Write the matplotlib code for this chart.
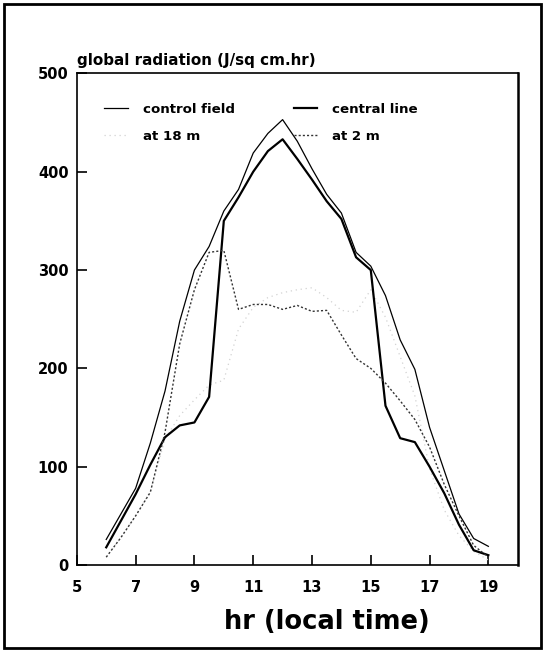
import matplotlib
matplotlib.use("Agg")
import matplotlib.pyplot as plt
from matplotlib.patches import Rectangle

plt.rcParams['font.family'] = ['DejaVu Sans']
plt.rcParams['font.weight'] = 'bold'

hours = [6, 6.5, 7, 7.5, 8, 8.5, 9, 9.5, 10, 10.5, 11, 11.5, 12, 12.5,
         13, 13.5, 14, 14.5, 15, 15.5, 16, 16.5, 17, 17.5, 18, 18.5, 19]

control_field = [26, 52, 78, 124, 177, 248, 300, 324, 360, 382, 419, 439, 453, 431,
                 403, 377, 358, 318, 304, 274, 229, 199, 140, 96, 52, 27, 19]
central_line = [18, 45, 72, 102, 130, 142, 145, 171, 350, 374, 400, 421, 433, 413,
                392, 370, 352, 313, 300, 162, 129, 125, 100, 73, 41, 15, 10]
at_18m = [8, 28, 50, 75, 128, 152, 168, 183, 188, 240, 262, 272, 277, 280,
          282, 272, 259, 257, 280, 252, 212, 172, 98, 56, 30, 14, 5]
at_2m = [8, 28, 50, 74, 135, 225, 280, 318, 320, 260, 265, 265, 260, 264,
         258, 259, 234, 210, 200, 185, 167, 148, 120, 82, 50, 20, 8]

fig = plt.figure(figsize=(5.45, 6.52), dpi=100)
ax = fig.add_axes([0.141, 0.1334, 0.809, 0.754])

ax.plot(hours, control_field, color='black', lw=0.9, label='control field')
ax.plot(hours, at_18m, color='#d2d2d2', lw=0.9, ls=(0, (1, 3)), label='at 18 m')
ax.plot(hours, central_line, color='black', lw=1.6, label='central line')
ax.plot(hours, at_2m, color='#333333', lw=1.0, ls=(0, (1.5, 1.5)), label='at 2 m')

ax.set_xlim(5, 20)
ax.set_ylim(0, 500)
ax.set_xticks([5, 7, 9, 11, 13, 15, 17, 19])
ax.set_yticks([0, 100, 200, 300, 400, 500])
ax.tick_params(direction='in', length=7, width=1.2, labelsize=10.5)
ax.tick_params(axis='x', pad=11)
ax.tick_params(axis='y', pad=6)
for lab in ax.get_xticklabels() + ax.get_yticklabels():
    lab.set_fontweight('bold')
for sp in ax.spines.values():
    sp.set_linewidth(1.2)
ax.spines['right'].set_linewidth(1.8)

ax.text(0.0, 1.01, 'global radiation (J/sq cm.hr)', transform=ax.transAxes,
        fontsize=10.9, fontweight='bold', ha='left', va='bottom')
fig.text(327 / 545, 1 - 622 / 652, 'hr (local time)', fontsize=18.5,
         fontweight='bold', ha='center', va='center')

leg = ax.legend(ncol=2, loc='upper left', bbox_to_anchor=(0.035, 0.965),
                frameon=False, fontsize=9.6, handlelength=1.75,
                handletextpad=1.15, columnspacing=4.4, labelspacing=1.05)
for t in leg.get_texts():
    t.set_fontweight('bold')

fig.patches.append(Rectangle((0.008, 0.006), 0.984, 0.988, transform=fig.transFigure,
                             fill=False, edgecolor='black', lw=2.0))

fig.savefig('out.png', dpi=100)
